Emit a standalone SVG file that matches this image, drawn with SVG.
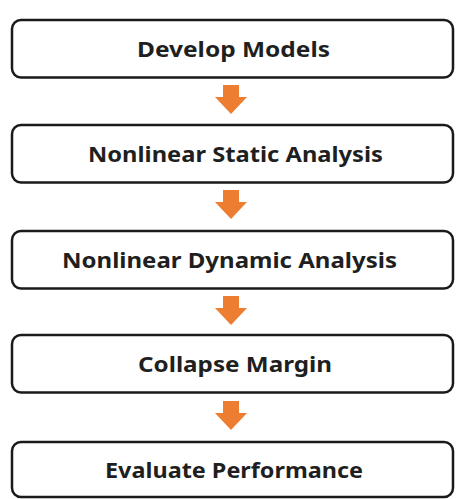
<svg xmlns="http://www.w3.org/2000/svg" width="460" height="499" viewBox="0 0 460 499">
<style>
.box{fill:#fff;stroke:#1a1a1a;stroke-width:2.5}
.lbl{font-family:"Noto Sans","Open Sans",sans-serif;font-weight:bold;font-size:22px;fill:#1f1f1f}
.arr{fill:#ED7D31}
</style>
<defs>
<path id="a" d="M-8,0 H8 V12 H16 L0,29 L-16,12 H-8 Z"/>
</defs>
<rect width="460" height="499" fill="#fff"/>
<g id="n1"><rect class="box" x="12" y="20" width="441" height="57.5" rx="9"/><text class="lbl" x="137" y="57" textLength="193" lengthAdjust="spacingAndGlyphs">Develop Models</text></g>
<g id="n2"><rect class="box" x="12" y="125" width="441" height="57.5" rx="9"/><text class="lbl" x="88" y="162" textLength="295" lengthAdjust="spacingAndGlyphs">Nonlinear Static Analysis</text></g>
<g id="n3"><rect class="box" x="12" y="231" width="441" height="57.5" rx="9"/><text class="lbl" x="62" y="268" textLength="335" lengthAdjust="spacingAndGlyphs">Nonlinear Dynamic Analysis</text></g>
<g id="n4"><rect class="box" x="12" y="335" width="441" height="57.5" rx="9"/><text class="lbl" x="138" y="372" textLength="194" lengthAdjust="spacingAndGlyphs">Collapse Margin</text></g>
<g id="n5"><rect class="box" x="12" y="442" width="441" height="55" rx="9"/><text class="lbl" x="105" y="478" textLength="258" lengthAdjust="spacingAndGlyphs">Evaluate Performance</text></g>
<g id="connectors">
<use class="arr" href="#a" x="231" y="85"/>
<use class="arr" href="#a" x="231" y="190"/>
<use class="arr" href="#a" x="231" y="296"/>
<use class="arr" href="#a" x="231" y="401"/>
</g>
</svg>
